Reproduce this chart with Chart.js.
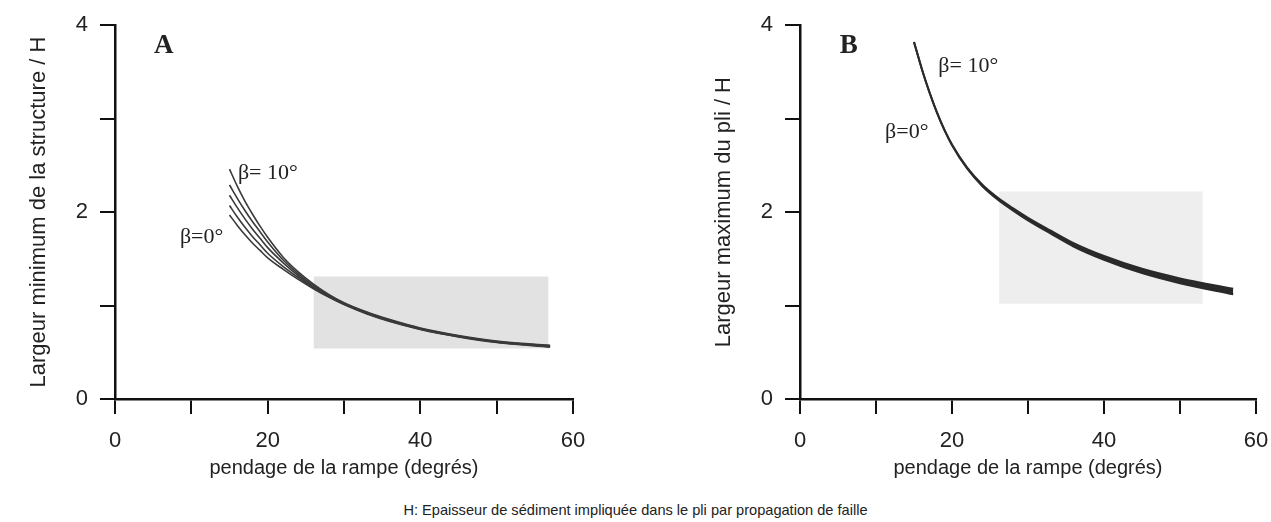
<!DOCTYPE html>
<html>
<head>
<meta charset="utf-8">
<script src="https://cdn.jsdelivr.net/npm/chart.js@4.4.1/dist/chart.umd.min.js"></script>
<style>
  html, body { margin: 0; padding: 0; background: #ffffff; }
  #wrap { position: relative; width: 1271px; height: 522px; overflow: hidden; background: #fff; }
  #cA { position: absolute; left: 0; top: 0; }
  #cB { position: absolute; left: 660px; top: 0; }
  #caption { position: absolute; left: 0; top: 500px; width: 1271px; text-align: center;
    font-family: "Liberation Sans", Arial, sans-serif; font-size: 14.6px; color: #222; line-height: 20px; }
</style>
</head>
<body>
<div id="wrap">
  <canvas id="cA" width="640" height="480"></canvas>
  <canvas id="cB" width="640" height="480"></canvas>
  <div id="caption">H: Epaisseur de sédiment impliquée dans le pli par propagation de faille</div>
</div>
<script>
// ---- data ----
const rampDip = [15, 16, 17, 18, 19, 20, 22, 24, 26, 28, 30, 33, 36, 40, 45, 50, 57];

// Panel A: minimum width of structure / H
const aBeta10  = [2.46, 2.28, 2.12, 1.98, 1.85, 1.73, 1.52, 1.36, 1.23, 1.12, 1.03, 0.93, 0.85, 0.76, 0.68, 0.62, 0.575];
const aBeta7_5 = [2.29, 2.15, 2.02, 1.90, 1.79, 1.68, 1.49, 1.34, 1.215, 1.11, 1.025, 0.925, 0.845, 0.755, 0.675, 0.615, 0.57];
const aBeta5   = [2.18, 2.05, 1.93, 1.82, 1.72, 1.62, 1.46, 1.32, 1.20, 1.10, 1.02, 0.92, 0.84, 0.75, 0.67, 0.61, 0.565];
const aBeta2_5 = [2.07, 1.95, 1.84, 1.74, 1.65, 1.56, 1.42, 1.30, 1.19, 1.095, 1.015, 0.915, 0.835, 0.748, 0.668, 0.608, 0.56];
const aBeta0   = [1.97, 1.86, 1.76, 1.67, 1.59, 1.51, 1.39, 1.28, 1.18, 1.09, 1.01, 0.91, 0.83, 0.745, 0.665, 0.605, 0.555];

// Panel B: maximum fold width / H
const bBeta0  = [3.82, 3.54, 3.289, 3.068, 2.877, 2.716, 2.464, 2.277, 2.135, 2.018, 1.911, 1.769, 1.632, 1.49, 1.347, 1.239, 1.12];
const bBeta10 = [3.82, 3.54, 3.291, 3.072, 2.883, 2.724, 2.476, 2.293, 2.155, 2.042, 1.939, 1.801, 1.668, 1.53, 1.393, 1.291, 1.18];

// shaded (observed) ranges
const rangeAx = [26, 56.8];
const rangeAy = [0.54, 1.31];
const rangeBx = [26.2, 53.0];
const rangeBy = [1.02, 2.22];

// tick labels
const xTickLabels = [0, 20, 40, 60];
const yTickLabels = [0, 2, 4];

const xTitle = 'pendage de la rampe (degrés)';
const yTitleA = 'Largeur minimum de la structure / H';
const yTitleB = 'Largeur maximum du pli / H';

// ---- helpers ----
const pts = (ys) => rampDip.map((x, i) => ({ x: x, y: ys[i] }));
const rectPts = (rx, ry) => rx.map(x => ({ x: x, y: ry[1] }));

const annotPlugin = {
  id: 'annot',
  afterDatasetsDraw(chart, args, opts) {
    const ctx = chart.ctx;
    const xs = chart.scales.x, ys = chart.scales.y;
    (opts.items || []).forEach(it => {
      ctx.save();
      ctx.font = it.font;
      ctx.fillStyle = it.color || '#222';
      ctx.textAlign = it.align || 'left';
      ctx.textBaseline = 'middle';
      ctx.fillText(it.text, xs.getPixelForValue(it.x), ys.getPixelForValue(it.y));
      ctx.restore();
    });
  }
};

function makeOptions(cfg) {
  const sans = '"Liberation Sans", Arial, sans-serif';
  return {
    responsive: false,
    animation: false,
    devicePixelRatio: 1,
    layout: { padding: { left: 0, top: 19, right: cfg.padRight, bottom: 0 } },
    plugins: {
      legend: { display: false },
      tooltip: { enabled: false },
      annot: { items: cfg.items }
    },
    elements: { point: { radius: 0 } },
    scales: {
      x: {
        type: 'linear', min: 0, max: 60,
        afterFit: (s) => { s.height = 81; },
        border: { display: true, color: '#111', width: 2.5 },
        grid: { drawOnChartArea: false, drawTicks: true, tickLength: 15, color: '#111', lineWidth: 2 },
        ticks: {
          stepSize: 10, autoSkip: false, maxRotation: 0, padding: 14,
          color: '#222', font: { family: sans, size: 22 },
          callback: (v) => xTickLabels.includes(v) ? String(v) : ''
        },
        title: { display: true, text: xTitle, color: '#222',
          font: { family: sans, size: 20 }, padding: { top: 0, bottom: 0 } }
      },
      y: {
        type: 'linear', min: 0, max: 4,
        afterFit: (s) => { s.width = cfg.yWidth; },
        border: { display: true, color: '#111', width: 2.5 },
        grid: { drawOnChartArea: false, drawTicks: true, tickLength: 15, color: '#111', lineWidth: 2 },
        ticks: {
          stepSize: 1, autoSkip: false, padding: 12,
          color: '#222', font: { family: sans, size: 22 },
          callback: (v) => yTickLabels.includes(v) ? String(v) : ''
        },
        title: { display: true, text: cfg.yTitle, color: '#222',
          font: { family: sans, size: 22 }, padding: { top: cfg.yTitlePad, bottom: 0 } }
      }
    }
  };
}

const lineDs = (label, ys, color, width, extra) => Object.assign({
  label: label, data: pts(ys), borderColor: color, borderWidth: width,
  fill: false, cubicInterpolationMode: 'monotone', pointRadius: 0, order: 1
}, extra || {});

const serif = '"Liberation Serif", "Times New Roman", serif';

// ---- Chart A ----
new Chart(document.getElementById('cA'), {
  type: 'line',
  data: {
    datasets: [
      { label: 'range', data: rectPts(rangeAx, rangeAy), fill: { value: rangeAy[0] },
        backgroundColor: '#e2e2e2', borderWidth: 0, pointRadius: 0, order: 10 },
      lineDs('β=0°', aBeta0, '#3a3a3a', 1.6),
      lineDs('β=2.5°', aBeta2_5, '#3a3a3a', 1.6),
      lineDs('β=5°', aBeta5, '#3a3a3a', 1.6),
      lineDs('β=7.5°', aBeta7_5, '#3a3a3a', 1.6),
      lineDs('β=10°', aBeta10, '#3a3a3a', 1.6)
    ]
  },
  options: makeOptions({
    padRight: 67, yWidth: 115, yTitle: yTitleA, yTitlePad: 26,
    items: [
      { text: 'A', x: 6.4, y: 3.78, font: 'bold 27px ' + serif, align: 'center' },
      { text: 'β= 10°', x: 16.1, y: 2.42, font: '22px ' + serif },
      { text: 'β=0°', x: 8.5, y: 1.73, font: '22px ' + serif }
    ]
  }),
  plugins: [annotPlugin]
});

// ---- Chart B ----
new Chart(document.getElementById('cB'), {
  type: 'line',
  data: {
    datasets: [
      { label: 'range', data: rectPts(rangeBx, rangeBy), fill: { value: rangeBy[0] },
        backgroundColor: '#eeeeee', borderWidth: 0, pointRadius: 0, order: 10 },
      lineDs('β=0°', bBeta0, '#2a2a2a', 2),
      lineDs('β=10°', bBeta10, '#2a2a2a', 2, { fill: '-1', backgroundColor: '#2a2a2a' })
    ]
  },
  options: makeOptions({
    padRight: 44, yWidth: 140, yTitle: yTitleB, yTitlePad: 51,
    items: [
      { text: 'B', x: 6.4, y: 3.78, font: 'bold 27px ' + serif, align: 'center' },
      { text: 'β= 10°', x: 18.2, y: 3.56, font: '22px ' + serif },
      { text: 'β=0°', x: 11.2, y: 2.85, font: '22px ' + serif }
    ]
  }),
  plugins: [annotPlugin]
});
</script>
</body>
</html>
